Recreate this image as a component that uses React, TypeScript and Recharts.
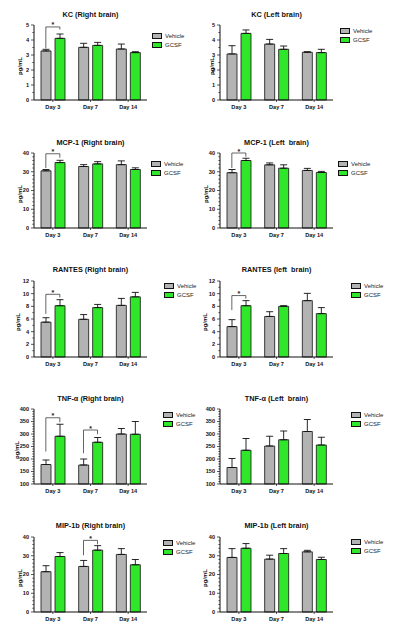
import React from 'react';
import { Bar, BarChart, ErrorBar, ReferenceLine, XAxis, YAxis } from 'recharts';

const days = ['Day 3', 'Day 7', 'Day 14'];
const legendNames = ['Vehicle', 'GCSF'];

const kcRightVehicle = [3.27, 3.51, 3.4];
const kcRightVehicleErr = [0.11, 0.27, 0.33];
const kcRightGcsf = [4.11, 3.64, 3.16];
const kcRightGcsfErr = [0.29, 0.2, 0.06];

const kcLeftVehicle = [3.07, 3.73, 3.18];
const kcLeftVehicleErr = [0.55, 0.31, 0.04];
const kcLeftGcsf = [4.44, 3.38, 3.16];
const kcLeftGcsfErr = [0.23, 0.22, 0.22];

const mcpRightVehicle = [30.5, 32.8, 33.8];
const mcpRightVehicleErr = [0.7, 1.0, 2.0];
const mcpRightGcsf = [34.9, 34.2, 31.2];
const mcpRightGcsfErr = [1.2, 1.2, 0.9];

const mcpLeftVehicle = [29.5, 33.7, 30.7];
const mcpLeftVehicleErr = [1.7, 1.0, 1.1];
const mcpLeftGcsf = [36.0, 31.9, 29.6];
const mcpLeftGcsfErr = [1.2, 1.8, 0.6];

const rantesRightVehicle = [5.5, 5.95, 8.15];
const rantesRightVehicleErr = [0.7, 0.75, 1.1];
const rantesRightGcsf = [8.1, 7.8, 9.5];
const rantesRightGcsfErr = [0.95, 0.5, 0.7];

const rantesLeftVehicle = [4.8, 6.4, 8.9];
const rantesLeftVehicleErr = [1.1, 0.75, 1.15];
const rantesLeftGcsf = [8.1, 8.0, 6.85];
const rantesLeftGcsfErr = [0.8, 0.1, 0.95];

const tnfRightVehicle = [178, 176, 300];
const tnfRightVehicleErr = [18, 24, 22];
const tnfRightGcsf = [291, 267, 299];
const tnfRightGcsfErr = [48, 19, 51];

const tnfLeftVehicle = [166, 252, 310];
const tnfLeftVehicleErr = [36, 39, 48];
const tnfLeftGcsf = [235, 277, 256];
const tnfLeftGcsfErr = [47, 35, 31];

const mipRightVehicle = [21.5, 24.3, 30.7];
const mipRightVehicleErr = [3.2, 3.2, 3.1];
const mipRightGcsf = [29.6, 33.0, 25.2];
const mipRightGcsfErr = [2.1, 2.4, 2.8];

const mipLeftVehicle = [29.1, 28.2, 32.1];
const mipLeftVehicleErr = [4.7, 2.1, 0.8];
const mipLeftGcsf = [34.0, 31.2, 28.0];
const mipLeftGcsfErr = [2.5, 2.6, 1.2];

// y-axis labelled ticks
const kcTicks = [0, 1, 2, 3, 4, 5];
const mcpTicks = [0, 10, 20, 30, 40];
const rantesTicks = [0, 2, 4, 6, 8, 10, 12];
const tnfTicks = [100, 150, 200, 250, 300, 350, 400];
const mipTicks = [0, 10, 20, 30, 40];

// significance brackets (data units: bottom of left leg, bottom of right leg, bracket top)
type Sig = { day: string; left: number; right: number; top: number };
const kcRightSig: Sig[] = [{ day: 'Day 3', left: 3.45, right: 4.7, top: 4.87 }];
const mcpRightSig: Sig[] = [{ day: 'Day 3', left: 32, right: 37.5, top: 39.6 }];
const mcpLeftSig: Sig[] = [{ day: 'Day 3', left: 32, right: 38, top: 40 }];
const rantesRightSig: Sig[] = [{ day: 'Day 3', left: 6.8, right: 9.4, top: 9.9 }];
const rantesLeftSig: Sig[] = [{ day: 'Day 3', left: 7.4, right: 9.2, top: 9.7 }];
const tnfRightSig: Sig[] = [
  { day: 'Day 3', left: 230, right: 347, top: 365 },
  { day: 'Day 7', left: 223, right: 299, top: 316 },
];
const mipRightSig: Sig[] = [{ day: 'Day 7', left: 30.3, right: 36.1, top: 38.2 }];

const FONT = '"Liberation Sans", Arial, Helvetica, sans-serif';
const GRAY = '#b3b3b3';
const GREEN = '#2fe62a';
const BAR_OFFSET = 7;

type PanelProps = {
  title: string;
  vehicle: number[];
  vehicleErr: number[];
  gcsf: number[];
  gcsfErr: number[];
  domain: [number, number];
  majors: number[];
  minorStep: number;
  sig?: Sig[];
  x0: number;
  x1: number;
  yTop: number;
  yBottom: number;
  titleY: number;
  legendX: number;
  legendY: number;
  labelX?: number;
};

const bracketShape = (side: -1 | 1, star: boolean) => (props: any) => {
  const { x1, y1, y2 } = props;
  const bx = x1 + side * BAR_OFFSET;
  return (
    <g>
      <path d={`M${bx},${y1}V${y2}H${x1}`} fill="none" stroke="#222" strokeWidth={0.7} />
      {star && (
        <text x={x1} y={y2 + 0.5} textAnchor="middle" fontSize={7} fontFamily={FONT} fontWeight="bold" fill="#222">
          *
        </text>
      )}
    </g>
  );
};

function Panel(p: PanelProps) {
  const data = days.map((day, i) => ({
    day,
    vehicle: p.vehicle[i],
    vErr: [0, p.vehicleErr[i]],
    gcsf: p.gcsf[i],
    gErr: [0, p.gcsfErr[i]],
  }));
  const ticks: number[] = [];
  for (let v = p.domain[0]; v <= p.domain[1] + 1e-9; v += p.minorStep) ticks.push(Math.round(v * 1000) / 1000);

  const yW = 30;
  const mTop = 12;
  const xH = 16;
  const mRight = 2;
  const left = p.x0 - yW;
  const top = p.yTop - mTop;
  const width = p.x1 - p.x0 + yW + mRight;
  const height = p.yBottom - p.yTop + mTop + xH;

  const renderYTick = (t: any) => {
    const v = t.payload.value;
    const major = p.majors.includes(v);
    const ax = t.x + 5;
    return (
      <g>
        <line x1={major ? ax - 3 : ax - 1.6} x2={ax} y1={t.y} y2={t.y} stroke="#111" strokeWidth={0.7} />
        {major && (
          <text x={t.x} y={t.y} dy="0.35em" textAnchor="end" fontSize={5.6} fontWeight="bold" fontFamily={FONT} fill="#111">
            {v}
          </text>
        )}
      </g>
    );
  };

  const cx = (p.x0 + p.x1) / 2;
  const cy = (p.yTop + p.yBottom) / 2 + 3;

  return (
    <>
      <div
        style={{
          position: 'absolute',
          left: cx - 70,
          width: 140,
          top: p.titleY - 5,
          lineHeight: '10px',
          fontSize: 7.3,
          fontWeight: 'bold',
          fontFamily: FONT,
          textAlign: 'center',
          whiteSpace: 'pre',
          color: '#111',
        }}
      >
        {p.title}
      </div>
      {p.labelX !== undefined && (
        <div
          style={{
            position: 'absolute',
            left: p.labelX - 20,
            top: cy - 4,
            width: 40,
            height: 8,
            lineHeight: '8px',
            fontSize: 6,
            fontWeight: 'bold',
            fontFamily: FONT,
            textAlign: 'center',
            transform: 'rotate(-90deg)',
            color: '#111',
          }}
        >
          pg/mL
        </div>
      )}
      {legendNames.map((name, i) => (
        <div
          key={name}
          style={{ position: 'absolute', left: p.legendX, top: p.legendY + i * 9, height: 6, display: 'flex', alignItems: 'center' }}
        >
          <div
            style={{
              width: 10,
              height: 6,
              boxSizing: 'border-box',
              border: '0.8px solid #111',
              background: i === 0 ? GRAY : GREEN,
            }}
          />
          <span style={{ marginLeft: 3, fontSize: 6, fontFamily: FONT, color: '#222', lineHeight: '6px' }}>{name}</span>
        </div>
      ))}
      <div style={{ position: 'absolute', left, top }}>
        <BarChart
          width={width}
          height={height}
          data={data}
          barGap={4}
          margin={{ top: mTop, right: mRight, bottom: 0, left: 0 }}
        >
          <XAxis
            dataKey="day"
            height={xH}
            tickSize={2}
            tickMargin={3}
            axisLine={{ stroke: '#111', strokeWidth: 1 }}
            tickLine={{ stroke: '#111', strokeWidth: 0.7 }}
            tick={{ fontSize: 5.6, fontWeight: 'bold', fill: '#111', fontFamily: FONT }}
          />
          <YAxis
            type="number"
            width={yW}
            domain={p.domain}
            ticks={ticks}
            interval={0}
            tickSize={3}
            tickMargin={2}
            tickLine={false}
            axisLine={{ stroke: '#111', strokeWidth: 1 }}
            tick={renderYTick}
          />
          <Bar dataKey="vehicle" fill={GRAY} stroke="#111" strokeWidth={0.8} barSize={10} isAnimationActive={false}>
            <ErrorBar dataKey="vErr" direction="y" width={3.5} stroke="#111" strokeWidth={0.9} />
          </Bar>
          <Bar dataKey="gcsf" fill={GREEN} stroke="#111" strokeWidth={0.8} barSize={10} isAnimationActive={false}>
            <ErrorBar dataKey="gErr" direction="y" width={3.5} stroke="#111" strokeWidth={0.9} />
          </Bar>
          {(p.sig ?? []).map((s) => (
            <ReferenceLine
              key={`${s.day}-l`}
              segment={[
                { x: s.day, y: s.left },
                { x: s.day, y: s.top },
              ]}
              ifOverflow="visible"
              shape={bracketShape(-1, true)}
            />
          ))}
          {(p.sig ?? []).map((s) => (
            <ReferenceLine
              key={`${s.day}-r`}
              segment={[
                { x: s.day, y: s.right },
                { x: s.day, y: s.top },
              ]}
              ifOverflow="visible"
              shape={bracketShape(1, false)}
            />
          ))}
        </BarChart>
      </div>
    </>
  );
}

export default function App() {
  const L = { x0: 34, x1: 147 };
  const R = { x0: 220, x1: 333 };
  return (
    <div style={{ position: 'absolute', left: 0, top: 0, width: 400, height: 631, background: '#fff', overflow: 'hidden' }}>
      <Panel
        title="KC (Right brain)"
        vehicle={kcRightVehicle} vehicleErr={kcRightVehicleErr} gcsf={kcRightGcsf} gcsfErr={kcRightGcsfErr}
        domain={[0, 5]} majors={kcTicks} minorStep={0.5} sig={kcRightSig}
        {...L} yTop={25} yBottom={100} titleY={15} legendX={152} legendY={33} labelX={20}
      />
      <Panel
        title="KC (Left brain)"
        vehicle={kcLeftVehicle} vehicleErr={kcLeftVehicleErr} gcsf={kcLeftGcsf} gcsfErr={kcLeftGcsfErr}
        domain={[0, 5]} majors={kcTicks} minorStep={0.5}
        {...R} yTop={25} yBottom={100} titleY={15} legendX={340} legendY={28} labelX={212}
      />
      <Panel
        title="MCP-1 (Right brain)"
        vehicle={mcpRightVehicle} vehicleErr={mcpRightVehicleErr} gcsf={mcpRightGcsf} gcsfErr={mcpRightGcsfErr}
        domain={[0, 40]} majors={mcpTicks} minorStep={2} sig={mcpRightSig}
        {...L} yTop={153} yBottom={228} titleY={143} legendX={151} legendY={161} labelX={20}
      />
      <Panel
        title="MCP-1 (Left  brain)"
        vehicle={mcpLeftVehicle} vehicleErr={mcpLeftVehicleErr} gcsf={mcpLeftGcsf} gcsfErr={mcpLeftGcsfErr}
        domain={[0, 40]} majors={mcpTicks} minorStep={2} sig={mcpLeftSig}
        {...R} yTop={153} yBottom={228} titleY={143} legendX={338} legendY={161} labelX={206}
      />
      <Panel
        title="RANTES (Right brain)"
        vehicle={rantesRightVehicle} vehicleErr={rantesRightVehicleErr} gcsf={rantesRightGcsf} gcsfErr={rantesRightGcsfErr}
        domain={[0, 12]} majors={rantesTicks} minorStep={1} sig={rantesRightSig}
        {...L} yTop={281} yBottom={357} titleY={270} legendX={164} legendY={283} labelX={18}
      />
      <Panel
        title="RANTES (left  brain)"
        vehicle={rantesLeftVehicle} vehicleErr={rantesLeftVehicleErr} gcsf={rantesLeftGcsf} gcsfErr={rantesLeftGcsfErr}
        domain={[0, 12]} majors={rantesTicks} minorStep={1} sig={rantesLeftSig}
        {...R} yTop={281} yBottom={357} titleY={270} legendX={351} legendY={283} labelX={205}
      />
      <Panel
        title="TNF-α (Right brain)"
        vehicle={tnfRightVehicle} vehicleErr={tnfRightVehicleErr} gcsf={tnfRightGcsf} gcsfErr={tnfRightGcsfErr}
        domain={[100, 400]} majors={tnfTicks} minorStep={10} sig={tnfRightSig}
        {...L} yTop={409} yBottom={484} titleY={399} legendX={163} legendY={412} labelX={17}
      />
      <Panel
        title="TNF-α (Left  brain)"
        vehicle={tnfLeftVehicle} vehicleErr={tnfLeftVehicleErr} gcsf={tnfLeftGcsf} gcsfErr={tnfLeftGcsfErr}
        domain={[100, 400]} majors={tnfTicks} minorStep={10}
        {...R} yTop={409} yBottom={484} titleY={399} legendX={351} legendY={412}
      />
      <Panel
        title="MIP-1b (Right brain)"
        vehicle={mipRightVehicle} vehicleErr={mipRightVehicleErr} gcsf={mipRightGcsf} gcsfErr={mipRightGcsfErr}
        domain={[0, 40]} majors={mipTicks} minorStep={2} sig={mipRightSig}
        {...L} yTop={537} yBottom={612} titleY={526} legendX={163} legendY={540} labelX={20}
      />
      <Panel
        title="MIP-1b (Left brain)"
        vehicle={mipLeftVehicle} vehicleErr={mipLeftVehicleErr} gcsf={mipLeftGcsf} gcsfErr={mipLeftGcsfErr}
        domain={[0, 40]} majors={mipTicks} minorStep={2}
        {...R} yTop={537} yBottom={612} titleY={526} legendX={351} legendY={539} labelX={205}
      />
    </div>
  );
}
